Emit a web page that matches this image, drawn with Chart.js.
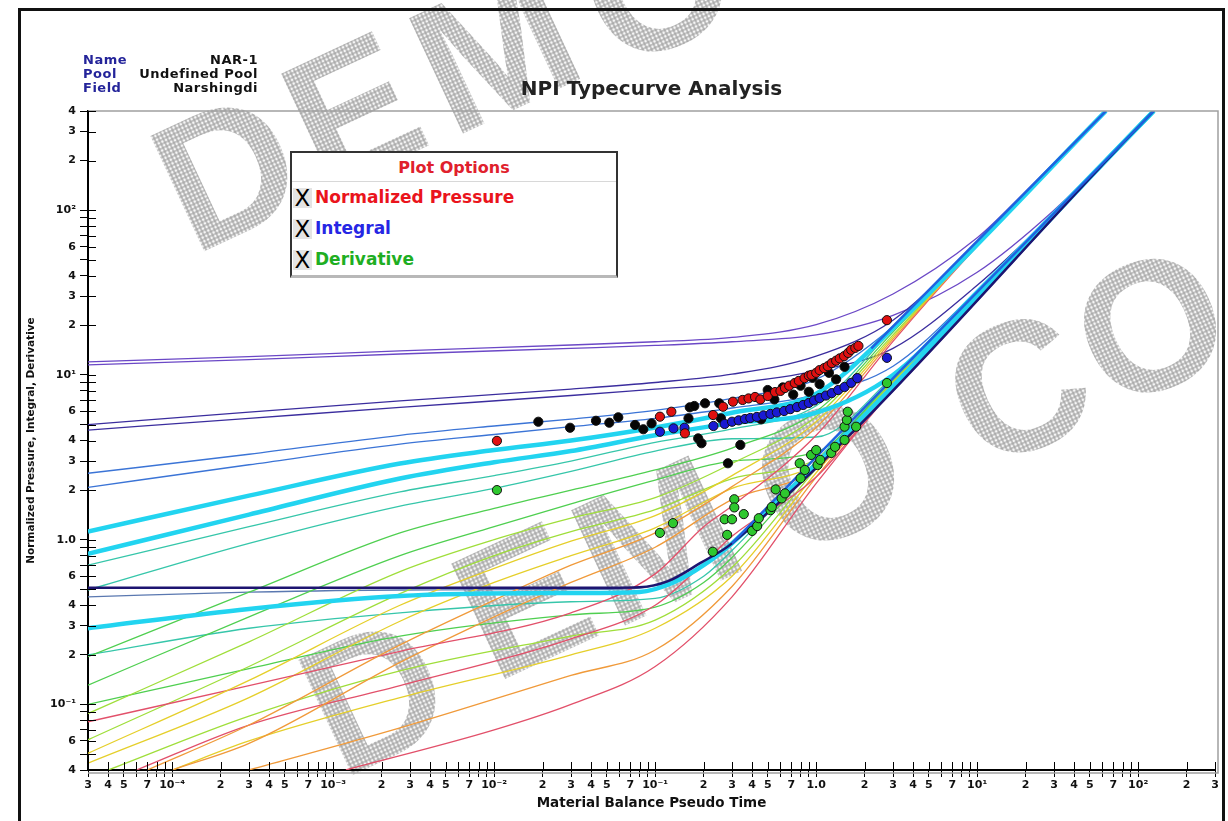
<!DOCTYPE html>
<html>
<head>
<meta charset="UTF-8"/>
<title>NPI Typecurve Analysis</title>
<script src="https://cdn.jsdelivr.net/npm/chart.js@4/dist/chart.umd.min.js"></script>
<style>
  body { margin:0; background:#fff; }
  #wrap { position:relative; width:1228px; height:821px; overflow:hidden; background:#fff;
          font-family:"DejaVu Sans", sans-serif; font-weight:bold; }
  #chart { position:absolute; left:0; top:0; }
  #frame { position:absolute; left:18px; top:8px; width:1207px; height:900px; border:3px solid #111;
           box-sizing:border-box; pointer-events:none; }
  #info { position:absolute; left:83px; top:53px; width:175px; font-size:13px; line-height:14px; letter-spacing:0.5px; }
  #info div { display:flex; justify-content:space-between; }
  #info .lab { color:#24249a; }
  #info .val { color:#111; }
  #opts { position:absolute; left:290px; top:151px; width:328px; background:#fff;
          border:2px solid #333; border-bottom:3px solid #b8b8b8; box-sizing:border-box; }
  #opts .otitle { height:28px; line-height:30px; text-align:center; color:#e0202c; font-size:16px;
                  border-bottom:1px solid #d8d8d8; }
  #opts .orow { height:31px; line-height:31px; font-size:17px; padding-left:1px; white-space:nowrap; }
  #opts .cb { display:inline-block; width:19px; height:20px; line-height:20px; text-align:center; color:#000;
              background:#e4e4e4; font-size:23px; font-weight:normal; margin-right:3px; vertical-align:-3px; }
</style>
</head>
<body>
<div id="wrap">
  <canvas id="chart" width="1228" height="821"></canvas>
  <div id="frame"></div>
  <div id="info">
    <div><span class="lab">Name</span><span class="val">NAR-1</span></div>
    <div><span class="lab">Pool</span><span class="val">Undefined Pool</span></div>
    <div><span class="lab">Field</span><span class="val">Narshingdi</span></div>
  </div>
  <div id="opts">
    <div class="otitle">Plot Options</div>
    <div class="orow" style="color:#ea141c"><span class="cb">X</span>Normalized Pressure</div>
    <div class="orow" style="color:#2626e4"><span class="cb">X</span>Integral</div>
    <div class="orow" style="color:#1eae22"><span class="cb">X</span>Derivative</div>
  </div>
</div>
<script>
// axis ticks
const xLabelValues = [3e-5,4e-5,5e-5,7e-5, 1e-4,2e-4,3e-4,4e-4,5e-4,7e-4, 1e-3,2e-3,3e-3,4e-3,5e-3,7e-3,
  1e-2,2e-2,3e-2,4e-2,5e-2,7e-2, 0.1,0.2,0.3,0.4,0.5,0.7, 1,2,3,4,5,7, 10,20,30,40,50,70, 100,200,300];
const xLabelTexts = ['3','4','5','7', '10⁻⁴','2','3','4','5','7', '10⁻³','2','3','4','5','7',
  '10⁻²','2','3','4','5','7', '10⁻¹','2','3','4','5','7', '1.0','2','3','4','5','7', '10¹','2','3','4','5','7', '10²','2','3'];
const yLabelValues = [0.04,0.06, 0.1,0.2,0.3,0.4,0.6, 1,2,3,4,6, 10,20,30,40,60, 100,200,300,400];
const yLabelTexts = ['4','6', '10⁻¹','2','3','4','6', '1.0','2','3','4','6', '10¹','2','3','4','6', '10²','2','3','4'];
const tickMantissas = [1,2,3,4,5,6,7,8,9];

// type curves: [tDd, value]
const pressureCurves = [
  [[3e-5,12.0],[3e-4,12.9],[2.6e-3,14.0],[0.03,15.2],[0.1,15.9],[0.3,16.9],[1,20.2],[3,31],[10,68],[20,130],[63,400]],
  [[3e-5,5.0],[3e-4,5.95],[2.6e-3,6.95],[0.03,8.2],[0.1,9.0],[0.3,10.1],[1,13.0],[3,21.5],[10,64],[63,400]],
  [[3e-5,2.53],[3e-4,3.3],[2.6e-3,4.3],[0.01,4.9],[0.03,5.4],[0.1,6.1],[0.3,7.2],[1,9.4],[3,19.6],[10,63],[63,400]],
  [[3e-5,1.12],[3e-4,1.85],[2.6e-3,2.9],[0.01,3.5],[0.03,4.0],[0.1,4.8],[0.3,5.9],[1,7.7],[3,19.2],[63,400]],
  [[3e-5,0.70],[3e-4,1.2],[2.6e-3,1.95],[0.01,2.45],[0.03,3.0],[0.1,3.9],[0.3,4.7],[1,6.5],[3,18.9],[63,400]],
  [[3e-5,0.195],[3e-4,0.48],[2.6e-3,1.1],[0.01,1.55],[0.03,2.0],[0.1,2.65],[0.3,3.6],[1,6.0],[3,18.2],[10,62.5],[63,400]],
  [[3e-5,0.088],[3e-4,0.24],[2.6e-3,0.64],[0.01,1.0],[0.03,1.35],[0.1,1.8],[0.3,2.9],[1,5.6],[3,17.5],[10,62],[63,400]],
  [[3e-5,0.0505],[3e-4,0.14],[2.6e-3,0.4],[0.01,0.67],[0.03,0.98],[0.1,1.4],[0.3,2.45],[1,5.2],[3,17],[10,61.5],[63,400]],
  [[7e-5,0.04],[3e-4,0.075],[2.6e-3,0.23],[0.01,0.43],[0.03,0.7],[0.1,1.1],[0.3,2.1],[1,4.8],[3,16.5],[10,61],[63,400]],
  [[3e-5,0.0785],[3e-4,0.13],[2.6e-3,0.21],[0.03,0.36],[0.1,0.62],[0.2,1.2],[0.3,1.6],[1,4.3],[3,16],[10,60.5],[63,400]]
];
const integralCurves = [
  [[3e-5,11.5],[3e-4,12.4],[2.6e-3,13.4],[0.03,14.5],[0.1,15.1],[0.3,15.9],[1,17.5],[3,23],[10,42],[30,100],[125,400]],
  [[3e-5,4.63],[3e-4,5.45],[2.6e-3,6.35],[0.03,7.5],[0.1,8.2],[0.3,8.9],[1,10.6],[3,14.5],[10,35],[30,96],[125,400]],
  [[3e-5,2.08],[3e-4,2.85],[2.6e-3,3.8],[0.01,4.35],[0.03,4.85],[0.1,5.45],[0.3,6.3],[1,7.6],[3,11.3],[10,32.5],[125,400]],
  [[3e-5,0.82],[3e-4,1.42],[2.6e-3,2.35],[0.01,2.95],[0.03,3.45],[0.1,4.3],[0.3,5.1],[1,5.9],[3,10],[10,31.8],[125,400]],
  [[3e-5,0.495],[3e-4,0.95],[2.6e-3,1.6],[0.01,2.05],[0.03,2.6],[0.1,3.45],[0.3,4.1],[1,4.2],[3,9.8],[125,400]],
  [[3e-5,0.131],[3e-4,0.34],[2.6e-3,0.8],[0.01,1.2],[0.03,1.65],[0.1,2.3],[0.3,3.0],[1,3.4],[3,9.5],[125,400]],
  [[3e-5,0.061],[3e-4,0.17],[2.6e-3,0.47],[0.01,0.8],[0.03,1.12],[0.1,1.52],[0.3,2.35],[1,3.1],[3,9.2],[10,31],[125,400]],
  [[3e-5,0.044],[3e-4,0.11],[2.6e-3,0.32],[0.01,0.55],[0.03,0.8],[0.1,1.18],[0.3,2.05],[1,2.9],[3,9.0],[10,30.8],[125,400]],
  [[1e-4,0.04],[3e-4,0.058],[2.6e-3,0.18],[0.01,0.34],[0.03,0.55],[0.1,0.9],[0.3,1.75],[1,2.7],[3,8.8],[10,30.6],[125,400]],
  [[6e-5,0.04],[3e-4,0.075],[2.6e-3,0.13],[0.03,0.25],[0.1,0.4],[0.2,0.72],[0.3,1.05],[1,2.4],[3,8.5],[10,30.3],[125,400]]
];
const derivativeCurves = [
  [[3e-5,0.51],[0.03,0.51],[0.08,0.515],[0.12,0.56],[0.19,0.72],[0.3,0.95],[125,400]],
  [[3e-5,0.45],[3e-4,0.48],[2.6e-3,0.495],[0.05,0.50],[0.12,0.55],[0.3,0.95],[125,400]],
  [[3e-5,0.29],[3e-4,0.38],[2.6e-3,0.455],[0.03,0.475],[0.08,0.482],[0.13,0.55],[0.2,0.7],[0.3,0.95],[125,400]],
  [[3e-5,0.2],[3e-4,0.29],[2.6e-3,0.36],[0.03,0.42],[0.1,0.44],[0.2,0.6],[0.3,0.86],[1,3.0],[3,9.3],[125,400]],
  [[3e-5,0.1],[3e-4,0.165],[2.6e-3,0.26],[0.03,0.35],[0.1,0.39],[0.2,0.55],[0.3,0.78],[1,2.85],[3,9.1],[125,400]],
  [[4e-5,0.04],[3e-4,0.085],[2.6e-3,0.16],[0.03,0.26],[0.1,0.325],[0.3,0.68],[1,2.7],[3,8.9],[10,30.8],[125,400]],
  [[1e-4,0.04],[3e-4,0.06],[2.6e-3,0.11],[0.03,0.2],[0.1,0.29],[0.3,0.6],[1,2.55],[3,8.7],[10,30.6],[125,400]],
  [[3e-4,0.04],[2.6e-3,0.072],[0.03,0.15],[0.1,0.214],[0.3,0.52],[1,2.4],[3,8.5],[10,30.4],[125,400]],
  [[1.2e-3,0.04],[0.01,0.07],[0.03,0.1],[0.1,0.17],[0.3,0.45],[1,2.2],[3,8.2],[10,30.2],[125,400]]
];
// late-time stems
const pressureStem = [[2.2,14.5],[63,400]];
const integralStem = [[0.3,0.95],[125,400]];

// measured data
const pressurePoints = [[0.0104,3.98],[0.107,5.58],[0.126,5.98],[0.153,4.42],[0.229,5.71],[0.264,6.41],[0.304,6.88],
  [0.349,7.05],[0.38,7.2],[0.417,7.35],[0.45,7.1],[0.5,7.45],[0.555,7.87],[0.6,8.0],[0.64,8.33],[0.68,8.6],[0.736,8.93],
  [0.78,9.2],[0.847,9.57],[0.9,9.9],[0.935,10.0],[1.0,10.3],[1.05,10.7],[1.12,11.0],[1.18,11.3],[1.25,11.8],[1.33,12.2],
  [1.4,12.6],[1.49,13.0],[1.58,13.6],[1.65,14.2],[1.75,14.6],[1.83,15.0],[2.75,21.5]];
const integralPoints = [[0.107,4.52],[0.13,4.74],[0.152,4.78],[0.23,4.90],[0.27,5.04],[0.30,5.20],[0.33,5.3],[0.361,5.40],
  [0.39,5.48],[0.428,5.56],[0.47,5.68],[0.52,5.80],[0.57,5.92],[0.632,6.04],[0.69,6.2],[0.76,6.38],[0.83,6.57],[0.90,6.76],
  [0.97,7.0],[1.05,7.24],[1.15,7.5],[1.25,7.76],[1.37,8.1],[1.5,8.45],[1.65,8.95],[1.8,9.57],[2.75,12.7]];
const derivativePoints = [[0.0104,2.00],[0.107,1.10],[0.129,1.26],[0.228,0.845],[0.27,1.33],[0.28,1.07],[0.30,1.33],
  [0.31,1.76],[0.31,1.57],[0.355,1.43],[0.40,1.13],[0.43,1.21],[0.44,1.35],[0.52,1.51],[0.53,1.58],[0.56,2.02],[0.61,1.78],
  [0.64,1.91],[0.79,2.91],[0.80,2.36],[0.85,2.65],[0.93,3.27],[1.0,3.50],[1.02,2.84],[1.06,3.05],[1.24,3.36],[1.31,3.66],
  [1.5,4.03],[1.5,4.85],[1.55,5.33],[1.57,5.98],[1.77,4.85],[2.75,8.93]];
const otherPoints = [[0.0188,5.20],[0.0296,4.78],[0.0429,5.27],[0.0519,5.13],[0.059,5.53],[0.075,4.97],[0.0844,4.68],
  [0.095,5.08],[0.161,5.45],[0.164,6.36],[0.175,6.48],[0.204,6.73],[0.25,6.73],[0.256,5.45],[0.185,4.12],[0.194,3.85],
  [0.338,3.76],[0.283,2.91],[0.455,5.38],[0.50,8.10],[0.55,7.1],[0.62,8.4],[0.72,7.6],[0.8,8.6],[0.9,7.9],[0.95,9.6],
  [1.05,8.8],[1.2,10.3],[1.33,9.40],[1.5,11.2]];

// styles
const familyColors = ['#6b48c6','#3b2d9e','#3b74d6','#22d4f0','#36c6aa','#4fcf50','#9fde3a','#e5cf2a','#f09a3a','#e2506a'];
const familyWidths = [1.3,1.3,1.3,4.5,1.3,1.3,1.3,1.3,1.3,1.3];
const derivColors = ['#1d1470','#5a78b0','#22d4f0','#36c6aa','#4fcf50','#9fde3a','#e5cf2a','#f09a3a','#e2506a'];
const derivWidths = [2.5,1.3,4.5,1.3,1.3,1.3,1.3,1.3,1.3];

const watermarkLetters = [['D',232,182],['E',358,122],['M',500,60],['O',662,-4],
  ['D',380,706],['E',528,612],['M',662,552],['O',834,485],['C',1023,399],['O',1156,337]];

function allTicks(min, max) {
  const out = [];
  for (let d = Math.floor(Math.log10(min)); d <= Math.ceil(Math.log10(max)); d++) {
    tickMantissas.forEach(m => {
      const v = Number((m * Math.pow(10, d)).toPrecision(6));
      if (v >= min * 0.999999 && v <= max * 1.000001) out.push(v);
    });
  }
  return out;
}
function labelFor(v, vals, texts) {
  const i = vals.findIndex(lv => Math.abs(lv / v - 1) < 1e-6);
  return i >= 0 ? texts[i] : '';
}
const toXY = pts => pts.map(p => ({x: p[0], y: p[1]}));
function lineSet(pts, color, width, order) {
  return { type: 'line', data: toXY(pts), borderColor: color, borderWidth: width, pointRadius: 0,
           fill: false, cubicInterpolationMode: 'monotone', order: order };
}
function pointSet(pts, color, order) {
  return { type: 'line', data: toXY(pts), showLine: false, pointRadius: 4.6, pointBackgroundColor: color,
           pointBorderColor: '#101010', pointBorderWidth: 1, order: order };
}

const datasets = [];
pressureCurves.forEach((c, i) => datasets.push(lineSet(c, familyColors[i], familyWidths[i], familyWidths[i] > 2 ? 8 : 10)));
integralCurves.forEach((c, i) => datasets.push(lineSet(c, familyColors[i], familyWidths[i], familyWidths[i] > 2 ? 8 : 10)));
derivativeCurves.forEach((c, i) => datasets.push(lineSet(c, derivColors[i], derivWidths[i], i === 0 ? 6 : (derivWidths[i] > 2 ? 8 : 10))));
datasets.push(lineSet(pressureStem, '#1f62e0', 2.5, 5));
datasets.push(lineSet(integralStem, '#1f62e0', 2.5, 5));
datasets.push(pointSet(otherPoints, '#050505', 3));
datasets.push(pointSet(derivativePoints, '#2ec82e', 2));
datasets.push(pointSet(integralPoints, '#1a1ad2', 1));
datasets.push(pointSet(pressurePoints, '#e01010', 0));

const watermark = {
  id: 'watermark',
  beforeDraw(chart) {
    const ctx = chart.ctx;
    const tile = document.createElement('canvas');
    tile.width = 4; tile.height = 4;
    const t = tile.getContext('2d');
    t.fillStyle = '#acacac'; t.fillRect(0, 0, 4, 4);
    t.fillStyle = '#f6f6f6'; t.beginPath(); t.arc(2, 2, 1.4, 0, Math.PI * 2); t.fill();
    ctx.save();
    ctx.fillStyle = ctx.createPattern(tile, 'repeat');
    ctx.font = 'bold 185px "Liberation Sans", Arial, sans-serif';
    ctx.textAlign = 'center';
    ctx.textBaseline = 'middle';
    watermarkLetters.forEach(([ch, cx, cy]) => {
      ctx.save(); ctx.translate(cx, cy); ctx.rotate(-25 * Math.PI / 180); ctx.fillText(ch, 0, 0); ctx.restore();
    });
    ctx.restore();
  }
};
const axisDecor = {
  id: 'axisDecor',
  afterDatasetsDraw(chart) {
    const {ctx, chartArea: a, scales: {x, y}} = chart;
    ctx.save();
    ctx.strokeStyle = '#a0a0a0'; ctx.lineWidth = 1.5;
    ctx.beginPath(); ctx.moveTo(a.left, a.top); ctx.lineTo(a.right + 3, a.top); ctx.lineTo(a.right + 3, a.bottom + 3);
    ctx.lineTo(a.left, a.bottom + 3); ctx.stroke();
    ctx.strokeStyle = '#000'; ctx.lineWidth = 1;
    ctx.beginPath();
    x.ticks.forEach(tk => {
      const px = Math.round(x.getPixelForValue(tk.value)) + 0.5;
      ctx.moveTo(px, a.bottom); ctx.lineTo(px, a.bottom - 8);
    });
    y.ticks.forEach(tk => {
      const py = Math.round(y.getPixelForValue(tk.value)) + 0.5;
      ctx.moveTo(a.left, py); ctx.lineTo(a.left + 8, py);
    });
    ctx.stroke();
    ctx.restore();
  }
};

const tickFont = { family: '"DejaVu Sans", sans-serif', weight: 'bold', size: 11 };
new Chart(document.getElementById('chart'), {
  type: 'line',
  data: { datasets: datasets },
  options: {
    responsive: false,
    animation: false,
    events: [],
    layout: { padding: { left: 21, right: 13, top: 10, bottom: 0 } },
    plugins: {
      legend: { display: false },
      tooltip: { enabled: false },
      title: {
        display: true, text: 'NPI Typecurve Analysis', fullSize: false, color: '#222',
        font: { family: '"DejaVu Sans", sans-serif', weight: 'bold', size: 20 },
        padding: { top: 68, bottom: 9 }
      }
    },
    scales: {
      x: {
        type: 'logarithmic', min: 3e-5, max: 300,
        afterBuildTicks: s => { s.ticks = allTicks(3e-5, 300).map(v => ({ value: v })); },
        afterFit: s => { s.height = 51; },
        ticks: { autoSkip: false, maxRotation: 0, minRotation: 0, padding: 2, color: '#111', font: tickFont,
                 callback: v => labelFor(v, xLabelValues, xLabelTexts) },
        grid: { drawOnChartArea: false, drawTicks: true, tickLength: 7, tickColor: '#000' },
        border: { display: true, color: '#000', width: 2 },
        title: { display: true, text: 'Material Balance Pseudo Time', color: '#111',
                 font: { family: '"DejaVu Sans", sans-serif', weight: 'bold', size: 13.5 },
                 padding: { top: 0, bottom: 9 } }
      },
      y: {
        type: 'logarithmic', min: 0.04, max: 400,
        afterBuildTicks: s => { s.ticks = allTicks(0.04, 400).map(v => ({ value: v })); },
        afterFit: s => { s.width = 67; },
        ticks: { autoSkip: false, padding: 4, color: '#111', font: tickFont,
                 callback: v => labelFor(v, yLabelValues, yLabelTexts) },
        grid: { drawOnChartArea: false, drawTicks: true, tickLength: 8, tickColor: '#000' },
        border: { display: true, color: '#000', width: 2 },
        title: { display: true, text: 'Normalized Pressure, Integral, Derivative', color: '#111',
                 font: { family: '"DejaVu Sans", sans-serif', weight: 'bold', size: 10.5 },
                 padding: { top: 4, bottom: 0 } }
      }
    }
  },
  plugins: [watermark, axisDecor]
});
</script>
</body>
</html>
